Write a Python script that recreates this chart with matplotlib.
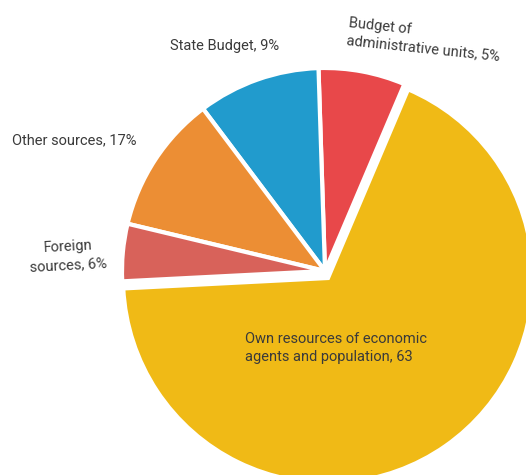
import matplotlib
matplotlib.use('Agg')
import matplotlib.pyplot as plt

# wedge shares (labels carry the printed numbers)
categories = ['Budget of administrative units', 'State Budget', 'Other sources',
              'Foreign sources', 'Own resources of economic agents and population']
shares = [6.9, 9.75, 11.0, 4.55, 67.8]
label_texts = ['Budget of\nadministrative units, 5%', 'State Budget, 9%',
               'Other sources, 17%', 'Foreign\nsources, 6%',
               'Own resources of economic\nagents and population, 63']
colors = ['#E8484A', '#219BCD', '#EC8E34', '#D8625A', '#F0BA16']

plt.rcParams['font.family'] = ['Roboto', 'DejaVu Sans']

W, H = 526, 475
cx, cy, R = 325, 271, 203

fig = plt.figure(figsize=(W / 100, H / 100), dpi=100)
ax = fig.add_axes([0, 0, 1, 1])
wedges, _ = ax.pie(shares, colors=colors, startangle=67, counterclock=True,
                   radius=1, wedgeprops=dict(edgecolor='white', linewidth=3))


def px(x, y):
    return (x - cx) / R, (cy - y) / R


# the big slice is pulled out a little and drawn slightly larger
wedges[4].set_center(px(328, 278))
wedges[4].set_radius(205 / R)

ax.set_xlim(-cx / R, (W - cx) / R)
ax.set_ylim(-(H - cy) / R, cy / R)
ax.set_aspect('auto')
ax.axis('off')

txt = dict(fontsize=10.5, color='#3a3a3a')
# label positions in pixel coords of the reference
ax.text(*px(349, 16), label_texts[0], ha='left', va='top', rotation=-6,
        rotation_mode='anchor', multialignment='left', linespacing=1.35, **txt)
ax.text(*px(225, 46), label_texts[1], ha='center', va='center', **txt)
ax.text(*px(74, 140), label_texts[2], ha='center', va='center', **txt)
ax.text(*px(68, 256), label_texts[3], ha='center', va='center', rotation=3,
        multialignment='center', linespacing=1.35, **txt)
ax.text(*px(245, 348), label_texts[4], ha='left', va='center',
        multialignment='left', linespacing=1.35, **txt)

fig.savefig('out.png', dpi=100, facecolor='white')
